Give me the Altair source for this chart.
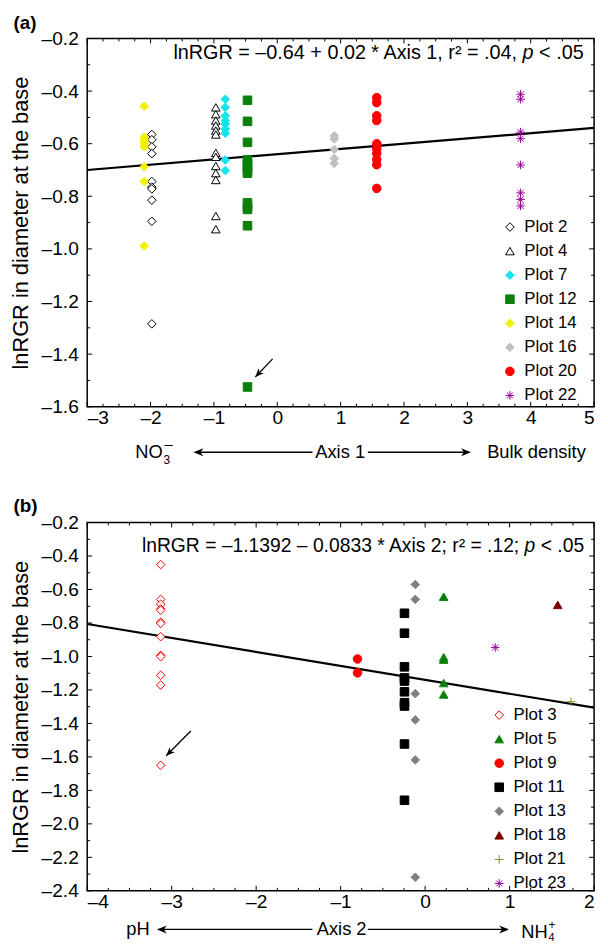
import altair as alt
import pandas as pd

FONT = "Liberation Sans"

# ---------------- panel (a): Axis 1 ----------------
a_plots = ["Plot 2", "Plot 4", "Plot 7", "Plot 12", "Plot 14", "Plot 16", "Plot 20", "Plot 22"]
a_axis1 = [-1.98, -0.97, -0.82, -0.47, -2.10, 0.90, 1.57, 3.84]
a_plot2 = [-0.565, -0.585, -0.612, -0.638, -0.744, -0.765, -0.772, -0.815, -0.895, -1.285]
a_plot4 = [-0.462, -0.488, -0.512, -0.531, -0.550, -0.565, -0.635, -0.650, -0.685, -0.712, -0.738, -0.875, -0.925]
a_plot7 = [-0.431, -0.462, -0.494, -0.512, -0.525, -0.544, -0.560, -0.662, -0.702]
a_plot12 = [-0.435, -0.515, -0.595, -0.662, -0.675, -0.688, -0.700, -0.712, -0.825, -0.840, -0.850, -0.912, -1.525]
a_plot14 = [-0.458, -0.575, -0.585, -0.600, -0.612, -0.688, -0.744, -0.989]
a_plot16 = [-0.570, -0.582, -0.622, -0.656, -0.675]
a_plot20 = [-0.425, -0.444, -0.494, -0.512, -0.600, -0.619, -0.637, -0.660, -0.680, -0.770]
a_plot22 = [-0.412, -0.431, -0.556, -0.581, -0.681, -0.787, -0.812, -0.837]
a_values = [a_plot2, a_plot4, a_plot7, a_plot12, a_plot14, a_plot16, a_plot20, a_plot22]
a_fit_x = [-3, 5]
a_fit_y = [-0.70, -0.54]
a_arrow = {"x": [-0.073], "y": [-1.418], "x2": [-0.347], "y2": [-1.487]}
a_xticks = [-3, -2, -1, 0, 1, 2, 3, 4, 5]
a_yticks = [-1.6, -1.4, -1.2, -1.0, -0.8, -0.6, -0.4, -0.2]

# ---------------- panel (b): Axis 2 ----------------
b_plots = ["Plot 3", "Plot 5", "Plot 9", "Plot 11", "Plot 13", "Plot 18", "Plot 21", "Plot 23"]
b_axis2 = [-3.13, 0.22, -0.80, -0.244, -0.116, 1.57, 1.726, 0.83]
b_plot3 = [-0.451, -0.659, -0.688, -0.716, -0.724, -0.795, -0.803, -0.882, -0.993, -1.001, -1.112, -1.171, -1.650]
b_plot5 = [-0.643, -1.005, -1.019, -1.159, -1.227]
b_plot9 = [-1.015, -1.098]
b_plot11 = [-0.742, -0.861, -1.062, -1.128, -1.147, -1.211, -1.276, -1.296, -1.523, -1.859]
b_plot13 = [-0.570, -0.659, -1.222, -1.379, -1.618, -2.319]
b_plot18 = [-0.692]
b_plot21 = [-1.270]
b_plot23 = [-0.946]
b_values = [b_plot3, b_plot5, b_plot9, b_plot11, b_plot13, b_plot18, b_plot21, b_plot23]
b_fit_x = [-4, 2]
b_fit_y = [-0.806, -1.306]
b_arrow = {"x": [-2.774], "y": [-1.445], "x2": [-3.065], "y2": [-1.593]}
b_xticks = [-4, -3, -2, -1, 0, 1, 2]
b_yticks = [-2.4, -2.2, -2.0, -1.8, -1.6, -1.4, -1.2, -1.0, -0.8, -0.6, -0.4, -0.2]

# ---------------- styles ----------------
ASTER = "M-1,0L1,0M0,-1L0,1M-0.7,-0.7L0.7,0.7M-0.7,0.7L0.7,-0.7"
PLUS = "M-1,0L1,0M0,-1L0,1"
HEAD = "M0,0L-0.42,1L0,0.72L0.42,1Z"
CYAN, GREEN, YELLOW, LGRAY, RED, PURPLE = "#12e4ee", "#0a800a", "#f2f200", "#c0c0c0", "#ff0000", "#990099"
GRAY, DRED, OLIVE = "#808080", "#800000", "#8c8c1a"

a_shapes = ["diamond", "triangle-up", "diamond", "square", "diamond", "diamond", "circle", ASTER]
a_fills = ["white", "white", CYAN, GREEN, YELLOW, LGRAY, RED, "transparent"]
a_strokes = ["black", "black", CYAN, GREEN, YELLOW, LGRAY, RED, PURPLE]
b_shapes = ["diamond", "triangle-up", "circle", "square", "diamond", "triangle-up", PLUS, ASTER]
b_fills = ["white", GREEN, RED, "black", GRAY, DRED, "transparent", "transparent"]
b_strokes = [RED, GREEN, RED, "black", GRAY, DRED, OLIVE, PURPLE]

ONE = pd.DataFrame({"k": [0]})
W = 512
LBL = 19.3
LPAD = 2


def minor(majors, step, sub):
    out = []
    for i in range(len(majors) - 1):
        for j in range(1, sub):
            out.append(round(majors[i] + j * step, 4))
    return out


def txt(s, x, y, size, align="left", weight="normal", style="normal", baseline="middle"):
    return alt.Chart(ONE).mark_text(
        text=s, align=align, baseline=baseline, font=FONT, fontSize=size,
        fontWeight=weight, fontStyle=style, color="black"
    ).encode(x=alt.value(x), y=alt.value(y))


def pline(x1, x2, y):
    return alt.Chart(ONE).mark_rule(color="black", strokeWidth=1.3).encode(
        x=alt.value(x1), x2=alt.value(x2), y=alt.value(y))


def phead(x, y, angle, size=380):
    return alt.Chart(ONE).mark_point(
        shape=HEAD, filled=True, size=size, color="black", opacity=1, angle=angle
    ).encode(x=alt.value(x), y=alt.value(y))


def panel(names, xs, values, shapes, fills, strokes, xdom, ydom, xticks, yticks,
          fit_x, fit_y, arrow, arrow_angle, H, leg_x, leg_y, extras, xfield):
    rows = []
    for n, xv, vals in zip(names, xs, values):
        for v in vals:
            rows.append({"plot": n, xfield: xv, "lnRGR": v})
    df = pd.DataFrame(rows)

    xs_ = alt.Scale(domain=xdom, nice=False, zero=False)
    ys_ = alt.Scale(domain=ydom, nice=False, zero=False)
    xa = alt.Axis(values=xticks[:-1], ticks=False, tickSize=0, domain=False, grid=False, title=None,
                  labelPadding=LPAD,
                  labelExpr="datum.value < 0 ? '\u2013' + format(-datum.value, 'd') : format(datum.value, 'd')")
    ya = alt.Axis(values=yticks, ticks=False, tickSize=0, domain=False, grid=False,
                  title="lnRGR in diameter at the base", titlePadding=9, labelPadding=9,
                  labelExpr="datum.value < 0 ? '\u2013' + format(-datum.value, '.1f') : format(datum.value, '.1f')")

    def X(f):
        return alt.X(f, type="quantitative", scale=xs_, axis=xa)

    def Y(f):
        return alt.Y(f, type="quantitative", scale=ys_, axis=ya)

    leg = alt.Legend(orient="none", legendX=leg_x, legendY=leg_y, title=None,
                     labelFont=FONT, labelFontSize=17, labelColor="black",
                     symbolSize=75, symbolStrokeWidth=1, rowPadding=6.3, labelOffset=6)

    pts = alt.Chart(df).mark_point(size=75, opacity=1, strokeWidth=1, filled=False).encode(
        x=X(xfield), y=Y("lnRGR"),
        shape=alt.Shape("plot:N", scale=alt.Scale(domain=names, range=shapes), legend=leg),
        fill=alt.Fill("plot:N", scale=alt.Scale(domain=names, range=fills), legend=leg),
        stroke=alt.Stroke("plot:N", scale=alt.Scale(domain=names, range=strokes), legend=leg),
    )

    fit = alt.Chart(pd.DataFrame({xfield: fit_x, "lnRGR": fit_y})).mark_line(
        color="black", strokeWidth=2.2).encode(x=X(xfield), y=Y("lnRGR"))

    layers = []
    xminor = minor(xticks, 0.25, 4)
    yminor = minor(yticks, 0.1, 2)
    for vals, L in [(xticks, 5), (xminor, 3)]:
        d = alt.Chart(pd.DataFrame({"t": vals})).mark_rule(color="black", strokeWidth=1)
        layers.append(d.encode(x=X("t"), y=alt.value(H), y2=alt.value(H - L)))
        layers.append(d.encode(x=X("t"), y=alt.value(0), y2=alt.value(L)))
    for vals, L in [(yticks, 5), (yminor, 3)]:
        d = alt.Chart(pd.DataFrame({"t": vals})).mark_rule(color="black", strokeWidth=1)
        layers.append(d.encode(y=Y("t"), x=alt.value(0), x2=alt.value(L)))
        layers.append(d.encode(y=Y("t"), x=alt.value(W), x2=alt.value(W - L)))

    # last x tick label kept flush with the right edge
    last = xticks[-1]
    layers.append(txt(str(last), W + 0.5, H + LPAD, LBL, align="right", baseline="top"))

    adf = pd.DataFrame(arrow)
    arr = alt.Chart(adf).mark_rule(color="black", strokeWidth=1.3).encode(
        x=X("x"), y=Y("y"), x2="x2", y2="y2")
    ahead = alt.Chart(adf).mark_point(shape=HEAD, filled=True, size=300, color="black",
                                      opacity=1, angle=arrow_angle).encode(
        x=X("x2"), y=Y("y2"))

    return alt.layer(fit, pts, *layers, arr, ahead, *extras).properties(width=W, height=H)


HA, HB = 372, 372

# ---- panel (a) annotations ----
fa = 20
Ra = W - 10.5
a_extras = [
    txt("(a)", -74.5, -16, 19, weight="bold"),
    txt("lnRGR = \u20130.64 + 0.02 * Axis 1, r\u00b2 = .04,", Ra - 3.364 * fa, 15, fa, align="right"),
    txt("p", Ra - 2.53 * fa, 15, fa, align="right", style="italic"),
    txt("< .05", Ra, 15, fa, align="right"),
    txt("NO", 48.5, 418, 18.5),
    txt("3", 77.0, 426, 12),
    txt("\u2013", 78.0, 410, 15),
    pline(109, 227.5, 418), phead(107.5, 418, 270),
    txt("Axis 1", 255.5, 418, 18.5, align="center"),
    pline(283.5, 386, 418), phead(387.5, 418, 90),
    txt("Bulk density", 404, 418, 18.5),
]

# ---- panel (b) annotations ----
fb = 19.5
Rb = W - 10
yb = HB + 39
b_extras = [
    txt("(b)", -74.5, -16.7, 19, weight="bold"),
    txt("lnRGR = \u20131.1392 \u2013 0.0833 * Axis 2; r\u00b2 = .12;", Rb - 3.364 * fb, 23.3, fb, align="right"),
    txt("p", Rb - 2.53 * fb, 23.3, fb, align="right", style="italic"),
    txt("< .05", Rb, 23.3, fb, align="right"),
    txt("pH", 39.5, yb, 18.5),
    pline(72, 227.5, yb), phead(70.5, yb, 270),
    txt("Axis 2", 257, yb, 18.5, align="center"),
    pline(283.5, 424.5, yb), phead(426, yb, 90),
    txt("NH", 438.5, yb + 3, 18.5),
    txt("4", 466, yb + 9, 11),
    txt("+", 466, yb - 4, 12),
]

pa = panel(a_plots, a_axis1, a_values, a_shapes, a_fills, a_strokes, [-3, 5], [-1.6, -0.2],
           a_xticks, a_yticks, a_fit_x, a_fit_y, a_arrow, 224, HA, 418.5, 182, a_extras, "axis1")
pb = panel(b_plots, b_axis2, b_values, b_shapes, b_fills, b_strokes, [-4, 2], [-2.4, -0.2],
           b_xticks, b_yticks, b_fit_x, b_fit_y, b_arrow, 225, HB, 407.7, 186, b_extras, "axis2")

chart = alt.vconcat(pa, pb, spacing=29).resolve_scale(
    shape="independent", fill="independent", stroke="independent"
).resolve_legend(
    shape="independent", fill="independent", stroke="independent"
).configure_view(
    stroke="black", strokeWidth=1.5
).configure_axis(
    labelFont=FONT, labelFontSize=LBL, labelColor="black",
    titleFont=FONT, titleFontSize=22, titleFontWeight="normal", titleColor="black"
).properties(
    padding={"left": 0, "top": 0, "right": 0, "bottom": 0}
)

chart.save("out.html", embed_options={"renderer": "svg", "actions": False})
